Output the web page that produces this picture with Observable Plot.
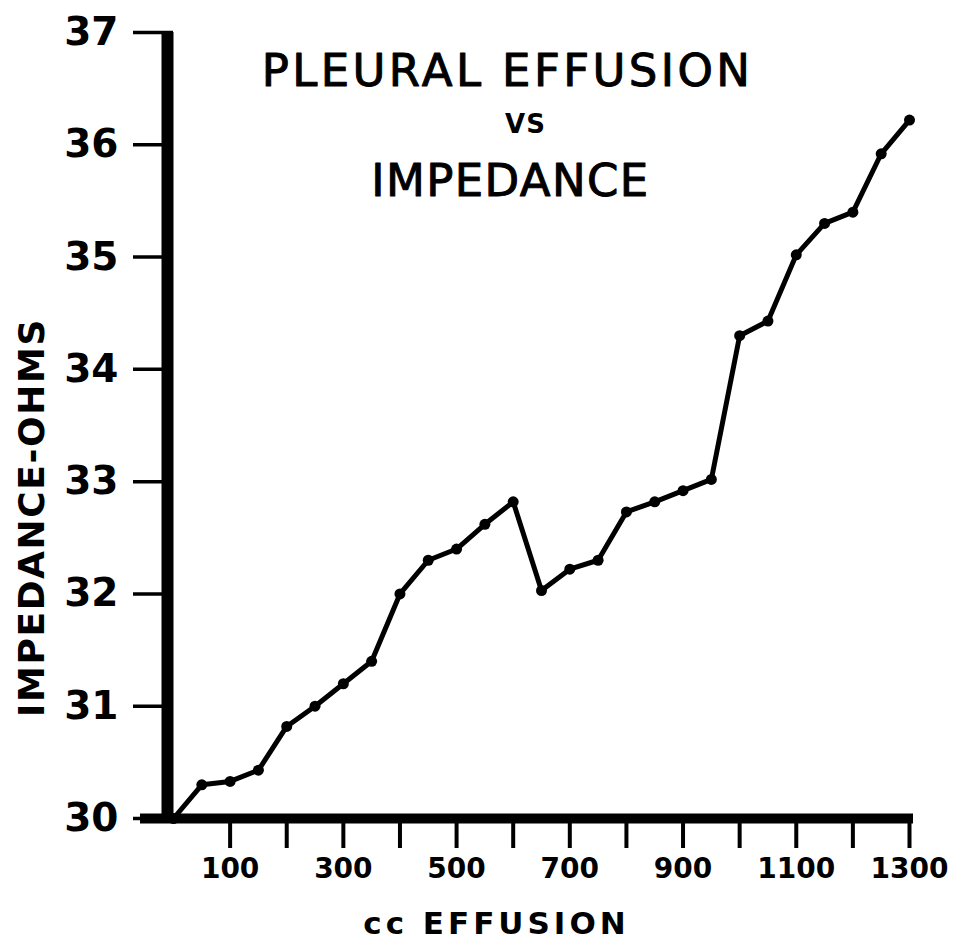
<!DOCTYPE html>
<html>
<head>
<meta charset="utf-8">
<script src="https://cdn.jsdelivr.net/npm/d3@7"></script>
<script src="https://cdn.jsdelivr.net/npm/@observablehq/plot@0.6"></script>
<style>
  html, body { margin: 0; padding: 0; background: #fff; }
  #chart svg { display: block; }
</style>
</head>
<body>
<div id="chart"></div>
<script>
// Data
const effusionCC = [0, 50, 100, 150, 200, 250, 300, 350, 400, 450, 500, 550, 600, 650,
  700, 750, 800, 850, 900, 950, 1000, 1050, 1100, 1150, 1200, 1250, 1300];
const impedanceOhms = [30.0, 30.3, 30.33, 30.43, 30.82, 31.0, 31.2, 31.4, 32.0, 32.3, 32.4, 32.62, 32.82, 32.03,
  32.22, 32.3, 32.73, 32.82, 32.92, 33.02, 34.3, 34.43, 35.02, 35.3, 35.4, 35.92, 36.22];
const yTicks = [30, 31, 32, 33, 34, 35, 36, 37];
const xTickMarks = [100, 200, 300, 400, 500, 600, 700, 800, 900, 1000, 1100, 1200, 1300];
const xTickLabels = [100, 300, 500, 700, 900, 1100, 1300];
const titleLines = ["PLEURAL EFFUSION", "VS", "IMPEDANCE"];
const xLabel = "cc EFFUSION";
const yLabel = "IMPEDANCE-OHMS";

const data = effusionCC.map((x, i) => ({x, y: impedanceOhms[i]}));
const font = "DejaVu Sans, Verdana, sans-serif";

const chart = Plot.plot({
  width: 973,
  height: 941,
  marginLeft: 173,
  marginRight: 64,
  marginTop: 32,
  marginBottom: 123,
  style: {fontFamily: font, background: "#fff", color: "#000"},
  x: {domain: [0, 1300], axis: null},
  y: {domain: [30, 37], axis: null},
  marks: [
    Plot.axisY({ticks: yTicks, tickSize: 40, tickPadding: 15, strokeWidth: 3.5,
      fontSize: 39, fontWeight: "bold", tickFormat: d => String(d), label: null}),
    Plot.axisX({ticks: xTickMarks, tickSize: 30, strokeWidth: 4, text: null, label: null}),
    Plot.axisX({ticks: xTickLabels, tickSize: 0, tickPadding: 40, fontSize: 28, fontWeight: "bold",
      tickFormat: d => String(d), label: null}),
    Plot.ruleY([30], {strokeWidth: 10, insetLeft: -33, insetRight: -4}),
    Plot.ruleX([0], {strokeWidth: 12, dx: -6}),
    Plot.line(data, {x: "x", y: "y", stroke: "#000", strokeWidth: 5}),
    Plot.dot(data, {x: "x", y: "y", r: 5.5, fill: "#000"}),
    // title lines
    Plot.text([titleLines[0]], {text: d => d, frameAnchor: "top-left", dx: 507 - 173, dy: 85 - 32,
      textAnchor: "middle", lineAnchor: "bottom", fontSize: 45, fill: "#000", stroke: "#000", strokeWidth: 1}),
    Plot.text([titleLines[1]], {text: d => d, frameAnchor: "top-left", dx: 525 - 173, dy: 132 - 32,
      textAnchor: "middle", lineAnchor: "bottom", fontSize: 26, fontWeight: "bold", fill: "#000"}),
    Plot.text([titleLines[2]], {text: d => d, frameAnchor: "top-left", dx: 510 - 173, dy: 195 - 32,
      textAnchor: "middle", lineAnchor: "bottom", fontSize: 45, fill: "#000", stroke: "#000", strokeWidth: 1}),
    // x label
    Plot.text([xLabel], {text: d => d, frameAnchor: "bottom-left", dx: 496 - 173, dy: 933 - 818,
      textAnchor: "middle", lineAnchor: "bottom", fontSize: 31, fontWeight: "bold", fill: "#000"}),
    // y label
    Plot.text([yLabel], {text: d => d, frameAnchor: "top-left", dx: 43 - 173, dy: 517 - 32,
      rotate: -90, textAnchor: "middle", lineAnchor: "bottom", fontSize: 36, fontWeight: "bold", fill: "#000"})
  ]
});

// letter spacing for the hand-lettered texts
const spacing = {
  "PLEURAL EFFUSION": 3.4,
  "IMPEDANCE": 1.4,
  "VS": 1,
  "cc EFFUSION": 4,
  "IMPEDANCE-OHMS": 1.6
};
d3.select(chart).selectAll("text").each(function() {
  const t = this.textContent;
  if (spacing[t] != null) this.setAttribute("letter-spacing", spacing[t]);
});

document.getElementById("chart").appendChild(chart);
</script>
</body>
</html>
